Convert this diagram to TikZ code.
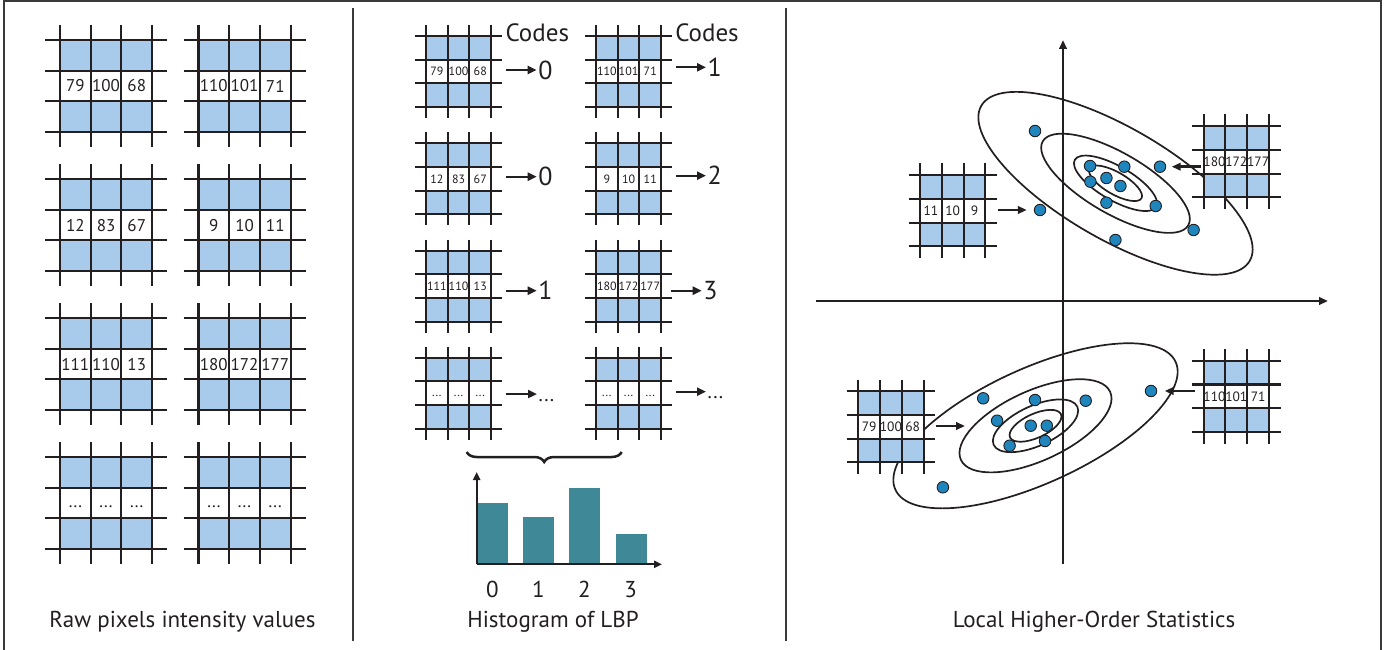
\documentclass[tikz,border=0pt]{standalone}
\usepackage{fontspec}
\setmainfont{PT Sans}
\usetikzlibrary{arrows.meta,decorations.pathreplacing}
\definecolor{cellblue}{HTML}{A8CAEB}
\definecolor{barteal}{HTML}{3E8897}
\definecolor{dotblue}{HTML}{1F85BD}
\definecolor{ink}{HTML}{231F20}
\definecolor{framegray}{HTML}{3A3A3A}
\newcommand\cellfont{\fontsize{17}{17}\selectfont}
\newcommand\celldots{\vphantom{x}...}
\newcommand\pixgrid[9]{%
  \begin{scope}[shift={(#2,#3)}]
    \fill[cellblue] (0,0) rectangle ({3*#4},{#5});
    \fill[white] (0,{#5}) rectangle ({3*#4},{2*#5});
    \fill[cellblue] (0,{2*#5}) rectangle ({3*#4},{3*#5});
    \foreach \k in {0,1,2,3}{
      \draw[gridline] ({\k*#4},{-#6}) -- ({\k*#4},{3*#5+#6});
      \draw[gridline] ({-#6},{\k*#5}) -- ({3*#4+#6},{\k*#5});
    }
    \node[celltext] (#1a) at ({0.5*#4},{1.5*#5}) {#7};
    \node[celltext] (#1b) at ({1.5*#4},{1.5*#5}) {#8};
    \node[celltext] (#1c) at ({2.5*#4},{1.5*#5}) {#9};
  \end{scope}}
\begin{document}
\begin{tikzpicture}[x=1pt,y=-1pt,
  gridline/.style={ink, line width=2.1pt},
  celltext/.style={inner sep=0pt, text=ink, font=\cellfont},
  dot/.style={circle, fill=dotblue, draw=ink, line width=0.9pt, minimum size=11.5pt, inner sep=0pt},
  ell/.style={ink, line width=1.7pt},
  axisline/.style={ink, line width=2.4pt, -{Triangle[length=9pt,width=7.5pt]}},
  haxis/.style={ink, line width=2.2pt, -{Triangle[length=8pt,width=7pt]}},
  codearrow/.style={ink, line width=2.4pt, -{Triangle[length=9pt,width=8pt]}},
  ptarrow/.style={ink, line width=2.4pt, -{Triangle[length=9pt,width=7.5pt]}},
  caption/.style={font=\fontsize{23}{23}\selectfont, text=ink, anchor=base, inner sep=0pt},
  codeword/.style={font=\fontsize{25}{25}\selectfont, text=ink, anchor=base, inner sep=0pt},
  codedigit/.style={font=\fontsize{26}{26}\selectfont, text=ink, anchor=west, inner sep=1.5pt},
  histlabel/.style={font=\fontsize{23}{23}\selectfont, text=ink, anchor=base, inner sep=0pt},
  bracestyle/.style={ink, line width=2.5pt, decorate, decoration={brace, mirror, amplitude=10pt}}
]
\useasboundingbox (0,0) rectangle (1395,650);
% frame and dividers
\draw[framegray, line width=2pt] (4,650) -- (4,1) -- (1381,1) -- (1381,650);
\draw[framegray, line width=1.6pt] (353,8) -- (353,641);
\draw[framegray, line width=1.6pt] (786,8) -- (786,641);

% ---------- left panel ----------
\renewcommand\cellfont{\fontsize{17}{17}\selectfont}
\pixgrid{L1}{60}{40}{30.7}{30.7}{15}{79}{100}{68}
\pixgrid{L2}{198.5}{40}{30.7}{30.7}{15}{110}{101}{71}
\pixgrid{L3}{60}{179}{30.7}{30.7}{15}{12}{83}{67}
\pixgrid{L4}{198.5}{179}{30.7}{30.7}{15}{9}{10}{11}
\pixgrid{L5}{60}{318}{30.7}{30.7}{15}{111}{110}{13}
\pixgrid{L6}{198.5}{318}{30.7}{30.7}{15}{180}{172}{177}
\pixgrid{L7}{60}{457}{30.7}{30.7}{15}{\celldots}{\celldots}{\celldots}
\pixgrid{L8}{198.5}{457}{30.7}{30.7}{15}{\celldots}{\celldots}{\celldots}
\node[caption] (cap1) at (182.5,627) {Raw pixels intensity values};

% ---------- middle panel ----------
\renewcommand\cellfont{\fontsize{12}{12}\selectfont}
\pixgrid{M1}{426}{36}{21.7}{23.7}{11}{79}{100}{68}
\pixgrid{M2}{596}{36}{21.7}{23.7}{11}{110}{101}{71}
\pixgrid{M3}{426}{143.3}{21.7}{23.7}{11}{12}{83}{67}
\pixgrid{M4}{596}{143.3}{21.7}{23.7}{11}{9}{10}{11}
\pixgrid{M5}{426}{250.7}{21.7}{23.7}{11}{111}{110}{13}
\pixgrid{M6}{596}{250.7}{21.7}{23.7}{11}{180}{172}{177}
\pixgrid{M7}{426}{357.7}{21.7}{23.7}{11}{\celldots}{\celldots}{\celldots}
\pixgrid{M8}{596}{357.7}{21.7}{23.7}{11}{\celldots}{\celldots}{\celldots}
\node[codeword] (codes1) at (537.3,41.7) {Codes};
\node[codeword] (codes2) at (707,41.7) {Codes};

\coordinate (m1s) at (506,70);     \node[codedigit] (m1c) at (536.7,70) {0};
\coordinate (m2s) at (676,67.3);   \node[codedigit] (m2c) at (706,67.3) {1};
\coordinate (m3s) at (506,176.7);  \node[codedigit] (m3c) at (536.7,176.7) {0};
\coordinate (m4s) at (676,175.7);  \node[codedigit] (m4c) at (706,175.7) {2};
\coordinate (m5s) at (506,290.7);  \node[codedigit] (m5c) at (536.7,290.7) {1};
\coordinate (m6s) at (670.7,290.7);\node[codedigit] (m6c) at (701.7,290.7) {3};
\coordinate (m7s) at (506,394);    \node[codedigit,font=\fontsize{20}{20}\selectfont] (m7c) at (537,394) {\vphantom{0}...};
\coordinate (m8s) at (676,391.7);  \node[codedigit,font=\fontsize{20}{20}\selectfont] (m8c) at (706,391.7) {\vphantom{0}...};
\foreach \i in {1,...,8}{ \draw[codearrow] (m\i s) -- (m\i c.west); }

% brace
\coordinate (bl) at (466.7,452);
\coordinate (br) at (621.7,452);
\draw[bracestyle] (bl) -- (br);

% histogram
\coordinate (ho) at (476.7,564.3);
\coordinate (hy) at (476.7,472);
\coordinate (hx) at (662,564.3);
\fill[barteal] (477.7,503.3) rectangle (507.7,564.3);
\fill[barteal] (523.3,517) rectangle (554,564.3);
\fill[barteal] (569.3,488) rectangle (600,564.3);
\fill[barteal] (616,534) rectangle (646.7,564.3);
\draw[haxis] (ho) -- (hy);
\draw[haxis] (ho) -- (hx);
\node[histlabel] (h0) at (492.3,597) {0};
\node[histlabel] (h1) at (538.3,597) {1};
\node[histlabel] (h2) at (584.3,597) {2};
\node[histlabel] (h3) at (630.7,597) {3};
\node[caption] (cap2) at (553,627) {Histogram of LBP};

% ---------- right panel ----------
\coordinate (vb) at (1063,564);
\coordinate (vt) at (1063,40);
\coordinate (hl) at (816,301);
\coordinate (hr) at (1328,301);
\draw[axisline] (vb) -- (vt);
\draw[axisline] (hl) -- (hr);

\coordinate (uc) at (1115.5,183.3);
\draw[ell] (uc) ellipse [x radius=155, y radius=56, rotate=-30];
\draw[ell] (uc) ellipse [x radius=84, y radius=30.5, rotate=-30];
\draw[ell] (uc) ellipse [x radius=47, y radius=17, rotate=-30];
\draw[ell] (uc) ellipse [x radius=30, y radius=11, rotate=-30];

\coordinate (lc) at (1035.5,425.8);
\draw[ell] (lc) ellipse [x radius=154, y radius=57.5, rotate=24.5];
\draw[ell] (lc) ellipse [x radius=82, y radius=35, rotate=24.5];
\draw[ell] (lc) ellipse [x radius=46, y radius=20, rotate=24.5];
\draw[ell] (lc) ellipse [x radius=28, y radius=12, rotate=24.5];

\renewcommand\cellfont{\fontsize{13.5}{13.5}\selectfont}
\pixgrid{R1}{920}{175}{21.8}{23.8}{11.5}{11}{10}{9}
\pixgrid{R2}{1203.6}{126}{21.8}{23.8}{11.5}{180}{172}{177}
\pixgrid{R3}{858.2}{391}{21.8}{23.8}{11.5}{79}{100}{68}
\pixgrid{R4}{1203.6}{360.7}{21.8}{23.8}{11.5}{110}{101}{71}

\node[dot] (u1) at (1035,131) {};
\node[dot] (u2) at (1090,166) {};
\node[dot] (u3) at (1124.3,166.7) {};
\node[dot] (u4) at (1160,166.7) {};
\node[dot] (u5) at (1106.4,178) {};
\node[dot] (u6) at (1120.4,186) {};
\node[dot] (u7) at (1090.4,181.7) {};
\node[dot] (u8) at (1106.4,202.7) {};
\node[dot] (u9) at (1155.7,206) {};
\node[dot] (u10) at (1193.6,230) {};
\node[dot] (u11) at (1115.4,240) {};
\node[dot] (u12) at (1040,210) {};

\node[dot] (l1) at (983.2,398.3) {};
\node[dot] (l2) at (1035,400) {};
\node[dot] (l3) at (1085.7,400.7) {};
\node[dot] (l4) at (1151,391) {};
\node[dot] (l5) at (997.1,420.7) {};
\node[dot] (l6) at (1030.7,425.7) {};
\node[dot] (l7) at (1046.8,425.7) {};
\node[dot] (l8) at (1045,441) {};
\node[dot] (l9) at (1009.6,445.7) {};
\node[dot] (l10) at (942.9,487.3) {};

\coordinate (r1s) at (997.5,210);
\draw[ptarrow] (r1s) -- ([xshift=-7pt]u12.west);
\coordinate (r2s) at (1200.7,166.7);
\draw[ptarrow] (r2s) -- ([xshift=5.5pt]u4.east);
\coordinate (r3s) at (935.7,426);
\coordinate (r3e) at (965,426);
\draw[ptarrow] (r3s) -- (r3e);
\coordinate (r4s) at (1194.6,391);
\draw[ptarrow] (r4s) -- ([xshift=7.5pt]l4.east);

\node[caption] (cap3) at (1094,627) {Local Higher-Order Statistics};
\end{tikzpicture}
\end{document}
